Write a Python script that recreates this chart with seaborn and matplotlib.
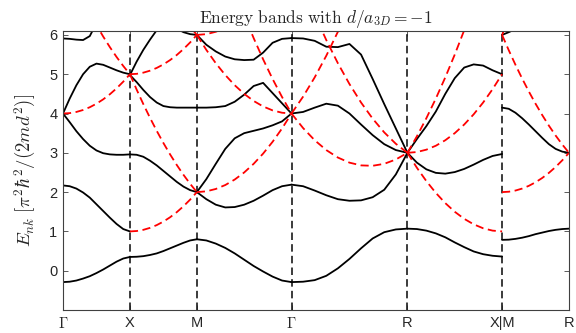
import numpy as np
import pandas as pd
import matplotlib
matplotlib.use('Agg')
import matplotlib.pyplot as plt
import seaborn as sns

# path through the Brillouin zone, segment lengths in units of pi/d
path_labels = ['$\\Gamma$', 'X', 'M', '$\\Gamma$', 'R', 'X|M', 'R']
seg_len = [1.0, 1.0, 1.414, 1.732, 1.414, 1.0]
frac = [0.0, 0.1, 0.2, 0.3, 0.4, 0.5, 0.6, 0.7, 0.8, 0.9, 1.0]

# bands of the lattice (black), one list per curve, sampled at frac
bands_GX = [
  [-0.29, -0.28, -0.25, -0.20, -0.14, -0.06, 0.03, 0.13, 0.23, 0.31, 0.35],
  [2.17, 2.15, 2.09, 1.99, 1.86, 1.69, 1.52, 1.35, 1.19, 1.06, 1.00],
  [4.00, 3.78, 3.55, 3.35, 3.18, 3.06, 2.99, 2.96, 2.95, 2.95, 2.96],
  [4.00, 4.38, 4.72, 5.00, 5.19, 5.27, 5.24, 5.17, 5.10, 5.04, 5.00],
  [5.91, 5.90, 5.88, 5.87, 5.97, 6.30, 6.70, 7.00, 7.20, 7.30, 7.35],
]
bands_XM = [
  [0.35, 0.355, 0.37, 0.40, 0.44, 0.50, 0.57, 0.64, 0.71, 0.77, 0.80],
  [2.96, 2.95, 2.90, 2.80, 2.68, 2.54, 2.40, 2.26, 2.14, 2.05, 2.00],
  [4.98, 4.80, 4.60, 4.42, 4.28, 4.19, 4.16, 4.15, 4.15, 4.15, 4.15],
  [4.98, 5.32, 5.62, 5.88, 6.12, 6.40, 6.70, 7.00, 7.20, 7.30, 7.30],
  [6.90, 6.80, 6.70, 6.60, 6.50, 6.40, 6.30, 6.16, 6.07, 6.02, 6.00],
]
bands_MG = [
  [0.80, 0.77, 0.69, 0.58, 0.44, 0.28, 0.12, -0.02, -0.15, -0.25, -0.29],
  [2.00, 1.82, 1.68, 1.61, 1.62, 1.68, 1.78, 1.91, 2.05, 2.15, 2.19],
  [2.00, 2.33, 2.72, 3.10, 3.37, 3.50, 3.56, 3.62, 3.70, 3.80, 4.00],
  [4.15, 4.15, 4.16, 4.19, 4.30, 4.48, 4.70, 4.78, 4.52, 4.26, 4.00],
  [6.00, 5.75, 5.58, 5.45, 5.38, 5.36, 5.37, 5.55, 5.80, 5.90, 5.92],
]
bands_GR = [
  [-0.29, -0.28, -0.24, -0.13, 0.06, 0.30, 0.57, 0.82, 0.98, 1.05, 1.07],
  [2.19, 2.15, 2.04, 1.92, 1.82, 1.78, 1.79, 1.87, 2.06, 2.45, 3.00],
  [4.00, 4.04, 4.15, 4.25, 4.20, 4.00, 3.72, 3.45, 3.22, 3.07, 3.00],
  [5.92, 5.91, 5.85, 5.70, 5.69, 5.77, 5.50, 4.88, 4.24, 3.62, 3.00],
]
bands_RX = [
  [1.07, 1.06, 1.02, 0.95, 0.85, 0.72, 0.60, 0.49, 0.42, 0.38, 0.36],
  [3.00, 2.75, 2.58, 2.49, 2.47, 2.51, 2.59, 2.70, 2.82, 2.92, 2.97],
  [3.00, 3.35, 3.68, 4.05, 4.50, 4.90, 5.17, 5.25, 5.22, 5.10, 5.00],
]
bands_MR = [
  [0.785, 0.79, 0.81, 0.84, 0.88, 0.93, 0.97, 1.01, 1.04, 1.06, 1.07],
  [4.15, 4.12, 4.02, 3.88, 3.72, 3.55, 3.38, 3.22, 3.10, 3.03, 3.00],
  [6.00, 6.07, 6.15, 6.30, 6.45, 6.60, 6.75, 6.90, 7.00, 7.10, 7.15],
]

# free-particle levels (red dashed)
free_GX = [
  [4.00, 4.01, 4.04, 4.09, 4.16, 4.25, 4.36, 4.49, 4.64, 4.81, 5.00],
  [8.00, 7.61, 7.24, 6.89, 6.56, 6.25, 5.96, 5.69, 5.44, 5.21, 5.00],
]
free_XM = [
  [1.00, 1.01, 1.04, 1.09, 1.16, 1.25, 1.36, 1.49, 1.64, 1.81, 2.00],
  [5.00, 4.61, 4.24, 3.89, 3.56, 3.25, 2.96, 2.69, 2.44, 2.21, 2.00],
  [5.00, 5.01, 5.04, 5.09, 5.16, 5.25, 5.36, 5.49, 5.64, 5.81, 6.00],
  [9.00, 8.61, 8.24, 7.89, 7.56, 7.25, 6.96, 6.69, 6.44, 6.21, 6.00],
]
free_MG = [
  [2.00, 2.02, 2.08, 2.18, 2.32, 2.50, 2.72, 2.98, 3.28, 3.62, 4.00],
  [6.00, 5.62, 5.28, 4.98, 4.72, 4.50, 4.32, 4.18, 4.08, 4.02, 4.00],
  [10.00, 9.22, 8.48, 7.78, 7.12, 6.50, 5.92, 5.38, 4.88, 4.42, 4.00],
  [6.00, 6.02, 6.08, 6.18, 6.32, 6.50, 6.72, 6.98, 7.28, 7.62, 8.00],
]
free_GR = [
  [4.00, 3.63, 3.32, 3.07, 2.88, 2.75, 2.68, 2.67, 2.72, 2.83, 3.00],
  [4.00, 4.43, 4.92, 5.47, 6.08, 6.75, 7.48, 8.27, 9.12, 10.03, 11.00],
  [8.00, 7.23, 6.52, 5.87, 5.28, 4.75, 4.28, 3.87, 3.52, 3.23, 3.00],
]
free_RX = [
  [3.00, 2.62, 2.28, 1.98, 1.72, 1.50, 1.32, 1.18, 1.08, 1.02, 1.00],
  [3.00, 3.02, 3.08, 3.18, 3.32, 3.50, 3.72, 3.98, 4.28, 4.62, 5.00],
  [3.00, 3.42, 3.88, 4.38, 4.92, 5.50, 6.12, 6.78, 7.48, 8.22, 9.00],
]
free_MR = [
  [2.00, 2.01, 2.04, 2.09, 2.16, 2.25, 2.36, 2.49, 2.64, 2.81, 3.00],
  [6.00, 5.61, 5.24, 4.89, 4.56, 4.25, 3.96, 3.69, 3.44, 3.21, 3.00],
  [6.00, 6.41, 6.84, 7.29, 7.76, 8.25, 8.76, 9.29, 9.84, 10.41, 11.00],
]

all_bands = [bands_GX, bands_XM, bands_MG, bands_GR, bands_RX, bands_MR]
all_free = [free_GX, free_XM, free_MG, free_GR, free_RX, free_MR]

kpts = np.concatenate([[0.], np.cumsum(seg_len)])

rows = []
for i in range(len(seg_len)):
  k = kpts[i] + np.array(frac) * seg_len[i]
  for j, b in enumerate(all_bands[i]):
    rows += [(kk, e, 'b%d_%d' % (i, j), 'band') for kk, e in zip(k, b)]
  for j, f in enumerate(all_free[i]):
    rows += [(kk, e, 'f%d_%d' % (i, j), 'free') for kk, e in zip(k, f)]
df = pd.DataFrame(rows, columns=['k', 'E', 'curve', 'kind'])

sns.set_theme(style='white')
plt.rcParams['font.family'] = ['Liberation Sans', 'DejaVu Sans']
plt.rcParams['mathtext.fontset'] = 'cm'

fig = plt.figure(figsize=(5.76, 3.33), dpi=100)
ax = fig.add_axes([63 / 576, 1 - 310 / 333, 506 / 576, 279 / 333])

for x in kpts[1:-1]:
  ax.axvline(x, color='k', lw=1.2, dashes=(4.5, 2.5), zorder=1)

sns.lineplot(data=df, x='k', y='E', units='curve', estimator=None, sort=False,
             hue='kind', hue_order=['band', 'free'], style='kind',
             palette={'band': 'black', 'free': 'red'},
             dashes={'band': '', 'free': (4.5, 2.5)},
             lw=1.3, legend=False, ax=ax, zorder=2)

ax.set_xlim(kpts[0], kpts[-1])
ax.set_ylim(-1, 6.1)
ax.set_xticks(kpts)
ax.set_xticklabels(path_labels, fontsize=10.5)
ax.set_yticks(range(0, 7))
ax.tick_params(axis='y', labelsize=10.5)
ax.tick_params(direction='in', length=3.5, width=0.6, color='#404040',
               top=True, right=True, bottom=True, left=True, pad=4)
ax.tick_params(axis='x', pad=4.5)
for s in ax.spines.values():
  s.set_color('#404040')
  s.set_linewidth(0.8)

ax.set_xlabel('')
ax.set_ylabel(r'$E_{nk}\;[\pi^2\hbar^2/(2md^2)]$', fontsize=13.5, labelpad=8)
ax.set_title(r'$\mathrm{Energy\ bands\ with\ }d/a_{3D} = -1$', fontsize=12.5, pad=6)

fig.savefig('out.png', dpi=100)
